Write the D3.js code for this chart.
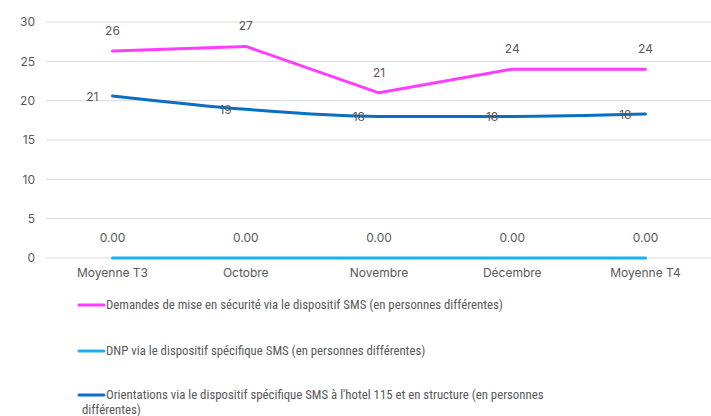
<!DOCTYPE html>
<html><head><meta charset="utf-8">
<script src="https://cdn.jsdelivr.net/npm/d3@7/dist/d3.min.js"></script>
<style>body{margin:0;background:#fff}svg{display:block}</style>
</head><body>
<script>
const categories = ["Moyenne T3", "Octobre", "Novembre", "Décembre", "Moyenne T4"];
const demandes = [26.3, 26.9, 21.0, 24.0, 24.0];
const dnp = [0, 0, 0, 0, 0];
const orientations = [20.6, 18.9, 18.0, 18.0, 18.3];
const yTicks = [0, 5, 10, 15, 20, 25, 30];
const seriesNames = [
  "Demandes de mise en sécurité via le dispositif SMS (en personnes différentes)",
  "DNP via le dispositif spécifique SMS (en personnes différentes)",
  "Orientations via le dispositif spécifique SMS à l'hotel 115 et en structure (en personnes différentes)"
];

const W = 711, H = 416;
const svg = d3.select("body").append("svg").attr("width", W).attr("height", H);
const x = d3.scalePoint().domain(categories).range([112.5, 645.5]);
const y = d3.scaleLinear().domain([0, 30]).range([258, 22]);
const textColor = "#595959";
const font = "Inter, 'Noto Sans', sans-serif";

// gridlines
svg.append("g").selectAll("line").data(yTicks).join("line")
  .attr("x1", 46).attr("x2", W).attr("y1", d => y(d)).attr("y2", d => y(d))
  .attr("stroke", "#d9d9d9").attr("stroke-width", 1);

// y axis labels
svg.append("g").selectAll("text").data(yTicks).join("text")
  .attr("x", 35).attr("y", d => y(d)).attr("dy", "0.35em")
  .attr("text-anchor", "end").attr("fill", textColor)
  .attr("font-family", font).attr("font-size", 12).text(d => d);

// x axis labels
svg.append("g").selectAll("text").data(categories).join("text")
  .attr("x", d => x(d)).attr("y", 277).attr("text-anchor", "middle")
  .attr("fill", textColor).attr("font-family", font).attr("font-size", 12).text(d => d);

const series = [
  {name: seriesNames[0], values: demandes, color: "#ff3cff", curve: d3.curveLinear},
  {name: seriesNames[1], values: dnp, color: "#1cb0f0", curve: d3.curveLinear},
  {name: seriesNames[2], values: orientations, color: "#0a6fc2", curve: d3.curveMonotoneX}
];

series.forEach(s => {
  const line = d3.line().x((d, i) => x(categories[i])).y(d => y(d)).curve(s.curve);
  svg.append("path").datum(s.values).attr("d", line)
    .attr("fill", "none").attr("stroke", s.color).attr("stroke-width", 3)
    .attr("stroke-linecap", "round").attr("stroke-linejoin", "round");
});

// data labels
const lbl = (sel) => sel.attr("fill", textColor).attr("font-family", font).attr("font-size", 12);
svg.append("g").selectAll("text").data(demandes).join("text")
  .attr("x", (d, i) => x(categories[i])).attr("y", d => y(d) - 16)
  .attr("text-anchor", "middle").call(lbl).text(d => Math.round(d));
svg.append("g").selectAll("text").data(dnp).join("text")
  .attr("x", (d, i) => x(categories[i])).attr("y", d => y(d) - 16)
  .attr("text-anchor", "middle").call(lbl).text(d => d.toFixed(2));
svg.append("g").selectAll("text").data(orientations).join("text")
  .attr("x", (d, i) => x(categories[i]) - 14).attr("y", d => y(d)).attr("dy", "0.38em")
  .attr("text-anchor", "end").call(lbl).text(d => Math.round(d));

// legend
const legY = [305, 351, 395];
const legFont = "'Liberation Sans Narrow', 'Roboto Condensed', Roboto, sans-serif";
series.forEach((s, i) => {
  const g = svg.append("g");
  g.append("line").attr("x1", 79).attr("x2", 104).attr("y1", legY[i]).attr("y2", legY[i])
    .attr("stroke", s.color).attr("stroke-width", 3).attr("stroke-linecap", "round");
  const t = g.append("text").attr("x", 106).attr("y", legY[i]).attr("dy", "0.35em")
    .attr("fill", textColor).attr("font-family", legFont).attr("font-size", 12.8);
  if (i === 2) {
    t.append("tspan").attr("x", 106).text("Orientations via le dispositif spécifique SMS à l'hotel 115 et en structure (en personnes");
    t.append("tspan").attr("x", 82).attr("dy", "1.15em").text("différentes)");
  } else {
    t.text(s.name);
  }
});
</script>
</body></html>
